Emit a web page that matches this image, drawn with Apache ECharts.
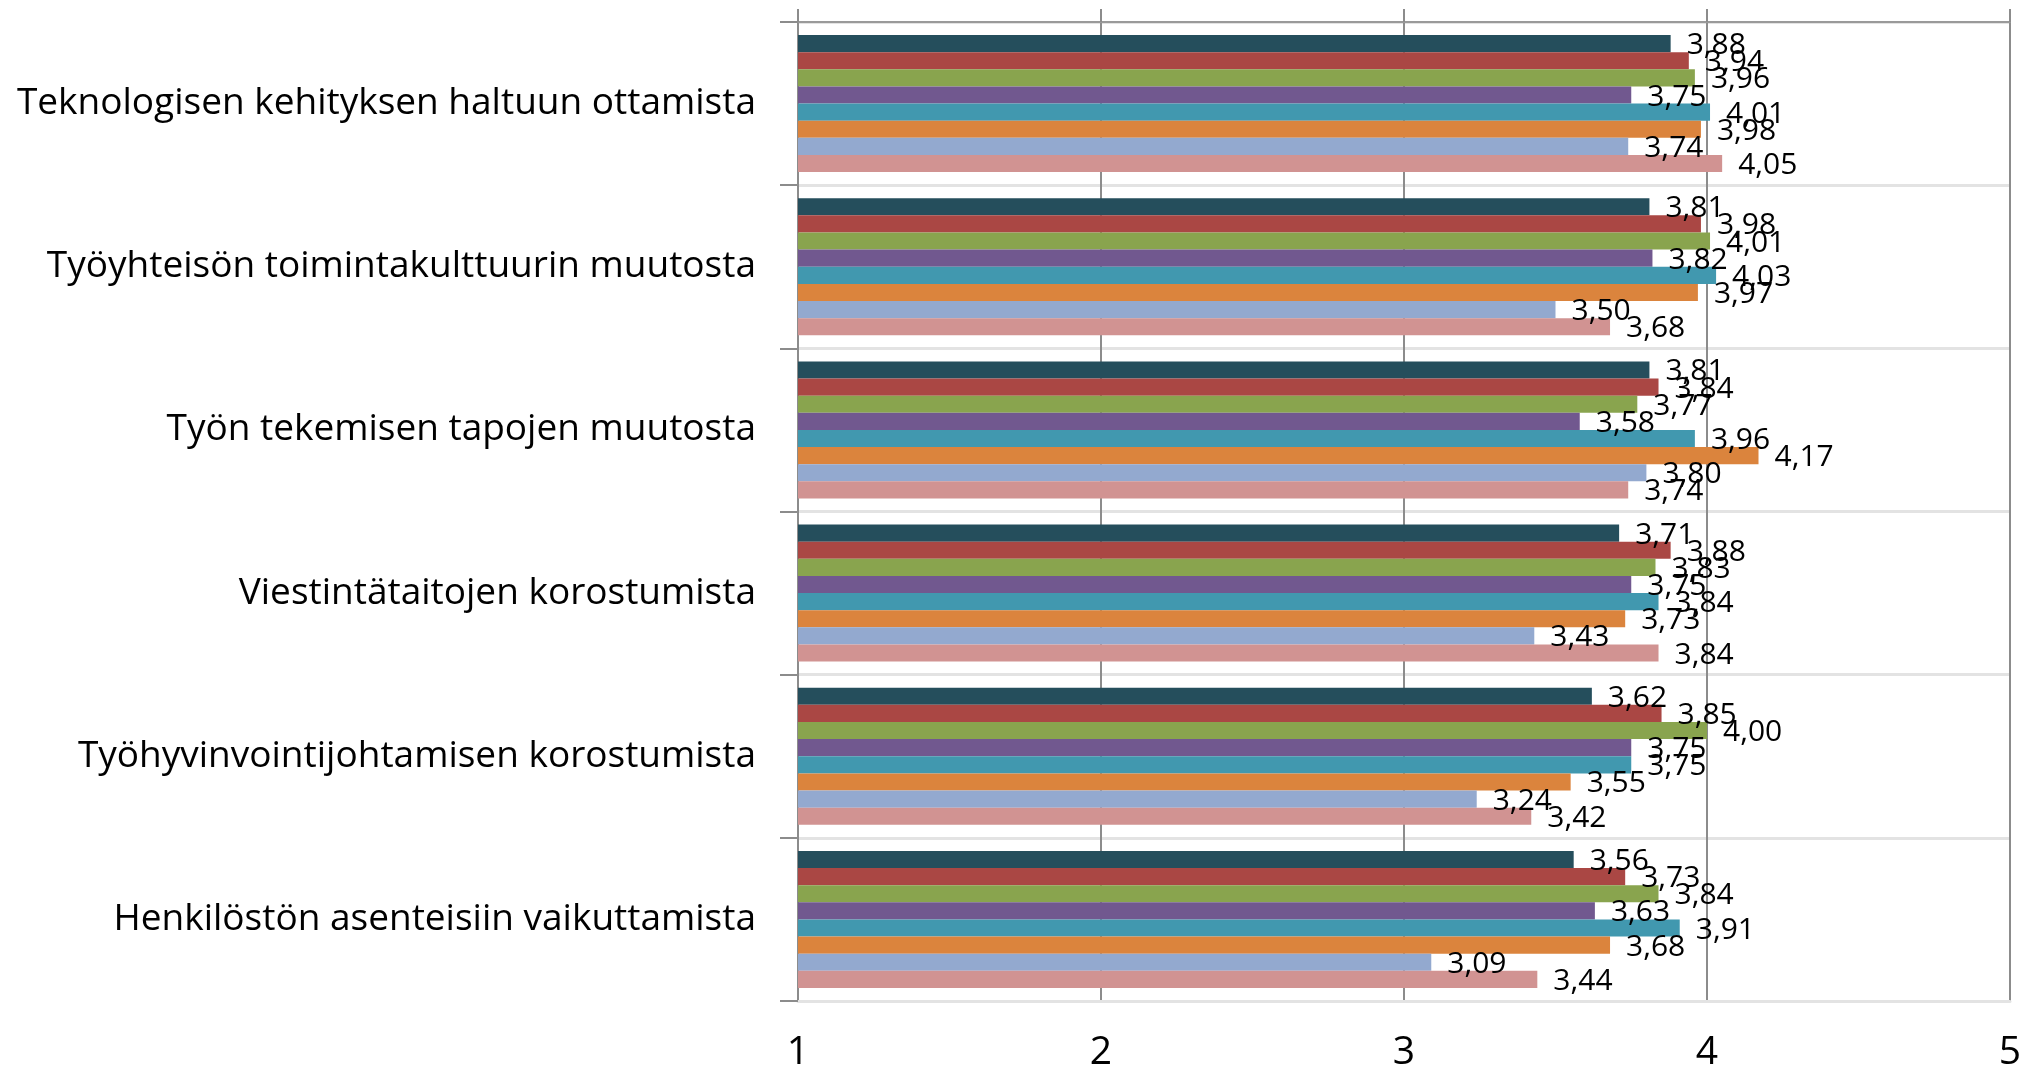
<!DOCTYPE html>
<html>
<head>
<meta charset="utf-8">
<script src="https://cdn.jsdelivr.net/npm/echarts@6/dist/echarts.min.js"></script>
<style>
  html, body { margin: 0; padding: 0; background: #fff; }
  #chart { width: 2025px; height: 1072px; }
</style>
</head>
<body>
<div id="chart"></div>
<script>
// kategoriat ylhäältä alas
const categories = [
  'Teknologisen kehityksen haltuun ottamista',
  'Työyhteisön toimintakulttuurin muutosta',
  'Työn tekemisen tapojen muutosta',
  'Viestintätaitojen korostumista',
  'Työhyvinvointijohtamisen korostumista',
  'Henkilöstön asenteisiin vaikuttamista',
]
const xTicks = [1, 2, 3, 4, 5]

// sarjat 1..8, arvot kategorioiden järjestyksessä
const s1 = [3.88, 3.81, 3.81, 3.71, 3.62, 3.56]
const s2 = [3.94, 3.98, 3.84, 3.88, 3.85, 3.73]
const s3 = [3.96, 4.01, 3.77, 3.83, 4.00, 3.84]
const s4 = [3.75, 3.82, 3.58, 3.75, 3.75, 3.63]
const s5 = [4.01, 4.03, 3.96, 3.84, 3.75, 3.91]
const s6 = [3.98, 3.97, 4.17, 3.73, 3.55, 3.68]
const s7 = [3.74, 3.50, 3.80, 3.43, 3.24, 3.09]
const s8 = [4.05, 3.68, 3.74, 3.84, 3.42, 3.44]

const colors = ['#254e5c', '#aa4744', '#89a44e', '#71588f', '#4198af', '#db843d', '#93a9cf', '#d19392']
const font = '"Open Sans", "Noto Sans", sans-serif'

const chart = echarts.init(document.getElementById('chart'))
let series = []
;[s1, s2, s3, s4, s5, s6, s7, s8].forEach((d, i) => {
  series.push({
    name: 'S' + (i + 1),
    type: 'bar',
    data: d,
    barGap: '0%',
    barCategoryGap: '16%',
    itemStyle: { color: colors[i] },
    label: {
      show: true,
      position: 'right',
      distance: 16,
      offset: [0, 2],
      fontFamily: font,
      fontSize: 30,
      color: '#000',
      formatter: (p) => p.value.toFixed(2).replace('.', ','),
    },
  })
})

let option = {
  animation: false,
  grid: { left: 798, right: 15, top: 22, bottom: 70 },
  xAxis: [
    {
      type: 'value',
      min: 1,
      max: 5,
      interval: 1,
      position: 'bottom',
      axisLine: { show: true, lineStyle: { color: '#e3e3e3', width: 3 } },
      axisTick: { show: false },
      axisLabel: {
        margin: 32,
        fontFamily: font,
        fontSize: 39,
        color: '#000',
        formatter: (v) => (xTicks.includes(v) ? String(v) : ''),
      },
      splitLine: { show: true, lineStyle: { color: '#8c8c8c', width: 2 } },
    },
    {
      // yläreuna
      type: 'value',
      min: 1,
      max: 5,
      interval: 1,
      position: 'top',
      axisLine: { show: true, lineStyle: { color: '#9a9a9a', width: 2 } },
      axisTick: { show: true, length: 13, lineStyle: { color: '#8c8c8c', width: 2 } },
      axisLabel: { show: false },
      splitLine: { show: false },
    },
  ],
  yAxis: {
    type: 'category',
    data: categories,
    inverse: true,
    axisLine: { show: true, lineStyle: { color: '#8c8c8c', width: 2 } },
    axisTick: { show: true, length: 18, lineStyle: { color: '#8c8c8c', width: 2 } },
    axisLabel: {
      margin: 42,
      padding: [8, 0, 0, 0],
      fontFamily: font,
      fontSize: 37,
      color: '#000',
    },
    splitLine: { show: true, lineStyle: { color: '#e3e3e3', width: 3 } },
  },
  series: series,
}
chart.setOption(option)
</script>
</body>
</html>
